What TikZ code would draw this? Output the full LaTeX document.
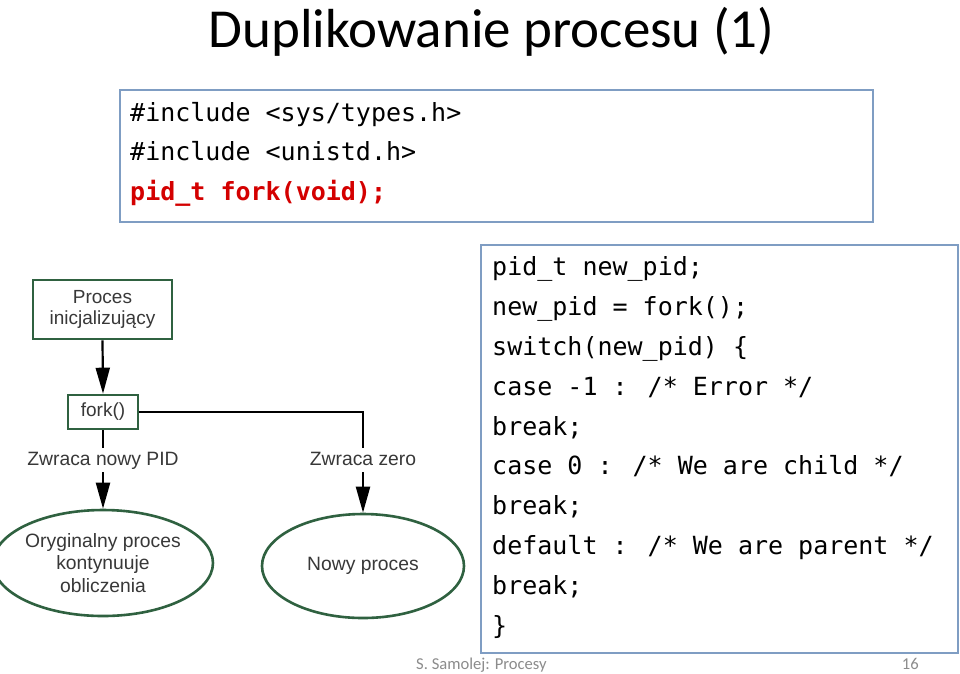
\documentclass[tikz,border=0pt]{standalone}
\usepackage{fontspec}
\setmainfont{Carlito}
\newfontfamily\codefont{DejaVu Sans Mono}
\newfontfamily\diagfont{Liberation Sans}
\usetikzlibrary{arrows.meta,shapes.geometric}
\definecolor{boxblue}{HTML}{7F9DC3}
\definecolor{dgreen}{HTML}{2F6140}
\definecolor{dtext}{HTML}{383838}
\definecolor{codered}{HTML}{D40000}
\definecolor{footgray}{HTML}{8C8C8C}
\newcommand{\us}{\char95\relax}
\tikzset{
  codeline/.style={anchor=base west, inner sep=0pt, font=\codefont\fontsize{25}{30}\selectfont},
  codebox/.style={draw=boxblue, line width=1.3pt},
  gbox/.style={draw=dgreen, line width=2.6pt, text=dtext, align=center, inner sep=0pt,
    font=\diagfont\fontsize{19}{20.5}\selectfont},
  gell/.style={ellipse, draw=dgreen, line width=2.6pt, text=dtext, align=center, inner sep=0pt,
    font=\diagfont\fontsize{19.3}{22.5}\selectfont, minimum width=202pt},
  lbl/.style={text=dtext, inner xsep=0pt, inner ysep=3.5pt, text height=13.5pt, text depth=3.5pt,
    font=\diagfont\fontsize{19.3}{22}\selectfont},
  conn/.style={line width=2.2pt, black},
  arr/.style={conn, -{Triangle[length=26pt,width=14pt]}}
}
\begin{document}
\begin{tikzpicture}[x=1pt,y=-1pt]
\path[use as bounding box, fill=white] (0,0) rectangle (960,673);
% title
\node[anchor=base, inner sep=0pt, font=\fontsize{55}{60}\selectfont] (title) at (491.5,47) {Duplikowanie procesu (1)};
% top code box
\node[codebox, minimum width=753pt, minimum height=132pt, inner sep=0pt] (topbox) at (496.5,156) {};
\node[codeline] (t1) at (130,121) {\#include <sys/types.h>};
\node[codeline] (t2) at (130,160.5) {\#include <unistd.h>};
\node[codeline, text=codered, font=\codefont\bfseries\fontsize{25}{30}\selectfont] (t3) at (130,200) {pid\us t fork(void);};
% right code box
\node[codebox, minimum width=477pt, minimum height=408pt, inner sep=0pt] (rbox) at (719.5,449) {};
\node[codeline] (c1) at (492,275) {pid\us t new\us pid;};
\node[codeline] (c2) at (492,315) {new\us pid = fork();};
\node[codeline] (c3) at (492,355) {switch(new\us pid) \{};
\node[codeline] (c4) at (492,395) {case -1 : /* Error */};
\node[codeline] (c5) at (492,435) {break;};
\node[codeline] (c6) at (492,474.5) {case 0 : /* We are child */};
\node[codeline] (c7) at (492,514) {break;};
\node[codeline] (c8) at (492,554) {default : /* We are parent */};
\node[codeline] (c9) at (492,594) {break;};
\node[codeline] (c10) at (492,634) {\}};
% diagram
\node[gbox, minimum width=139pt, minimum height=59pt] (init) at (102.5,309.5) {Proces\\inicjalizujący};
\node[gbox, minimum width=70pt, minimum height=34pt] (fork) at (103,412) {fork()};
\node[lbl] (l1) at (103,460) {Zwraca nowy PID};
\node[lbl] (l2) at (363,460) {Zwraca zero};
\node[gell, minimum height=106pt] (e1) at (103,563) {Oryginalny proces\\kontynuuje\\obliczenia};
\node[gell, minimum height=104pt] (e2) at (363,566) {Nowy proces};
\draw[arr] (init.south) -- (fork.north);
\draw[conn] (fork.south) -- (l1.north);
\draw[arr] (l1.south) -- (e1.north);
\draw[conn] (fork.east) -| (l2.north);
\draw[arr] (l2.south) -- (e2.north);
% footer
\node[anchor=base west, inner sep=0pt, text=footgray, font=\fontsize{16.6}{20}\selectfont] (foot) at (416,669) {S. Samolej: Procesy};
\node[anchor=base east, inner sep=0pt, text=footgray, font=\fontsize{16.6}{20}\selectfont] (page) at (919,669) {16};
\end{tikzpicture}
\end{document}
